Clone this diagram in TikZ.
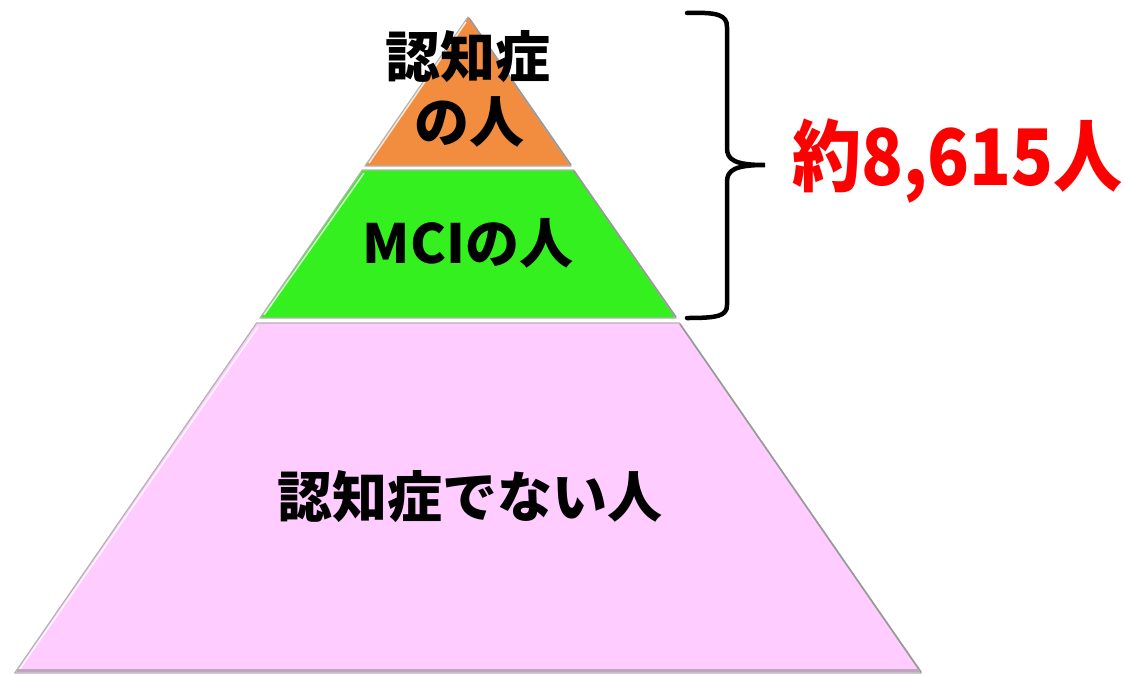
\documentclass[tikz,border=0pt]{standalone}
\usepackage{fontspec}
\newfontfamily\jp{Noto Sans CJK JP}
\definecolor{orng}{RGB}{242,140,62}
\definecolor{grn}{RGB}{52,240,30}
\definecolor{pnk}{RGB}{255,204,255}
\definecolor{redtxt}{RGB}{255,0,0}
\tikzset{
  tier/.style={draw=gray!60, line width=1.2pt, line join=round},
  lbl/.style={font=\jp\bfseries, text=black, inner sep=0pt},
  shade edge/.style={gray!80, line width=1.6pt},
}
\begin{document}
\begin{tikzpicture}[x=1pt,y=-1pt]
\useasboundingbox (0,0) rectangle (1125,675);
% tiers
\path[tier, fill=orng] (468,17) -- (571,166) -- (365,166) -- cycle;
\path[tier, fill=grn] (362.3,170) -- (573.7,170) -- (676,318) -- (260,318) -- cycle;
\path[tier, fill=pnk] (256.6,323) -- (679.4,323) -- (921.3,673) -- (14.7,673) -- cycle;
% highlight on the left edges, shade on the right edges
\draw[white, line width=1.5pt, opacity=0.8] (466,22) -- (369,163);
\draw[white, line width=1.5pt, opacity=0.8] (364,173) -- (264,315);
\draw[white, line width=1.5pt, opacity=0.8] (258,327) -- (19,670);
\draw[shade edge] (469,18) -- (571,165);
\draw[shade edge] (574,171) -- (676,317);
\draw[shade edge] (680,324) -- (921,672);
\draw[gray!50!pnk, line width=3pt] (17,670) -- (919,670);
% labels
\node[lbl, font=\jp\bfseries\fontsize{55}{60}\selectfont] (t1) at (468,57) {認知症};
\node[lbl, font=\jp\bfseries\fontsize{55}{60}\selectfont] (t2) at (469,122) {の人};
\node[lbl, font=\jp\bfseries\fontsize{54}{60}\selectfont] (t3) at (468,243) {MCIの人};
\node[lbl, font=\jp\bfseries\fontsize{55}{60}\selectfont] (t4) at (470,497) {認知症でない人};
% brace
\coordinate (btop) at (687,13);
\coordinate (btip) at (765,165);
\coordinate (bbot) at (687,318);
\draw[line width=4.5pt, line cap=round] (btop) .. controls (718,12) and (727,15) .. (727,27) -- (727,148)
  .. controls (727,160) and (735,165) .. (btip)
  .. controls (735,165) and (727,170) .. (727,182) -- (727,305)
  .. controls (727,316) and (718,318) .. (bbot);
\node[font=\jp\bfseries\fontsize{78}{80}\selectfont, text=redtxt, anchor=west, inner sep=0pt, xscale=0.885] (tot) at (792,161) {約8,615人};
\end{tikzpicture}
\end{document}
